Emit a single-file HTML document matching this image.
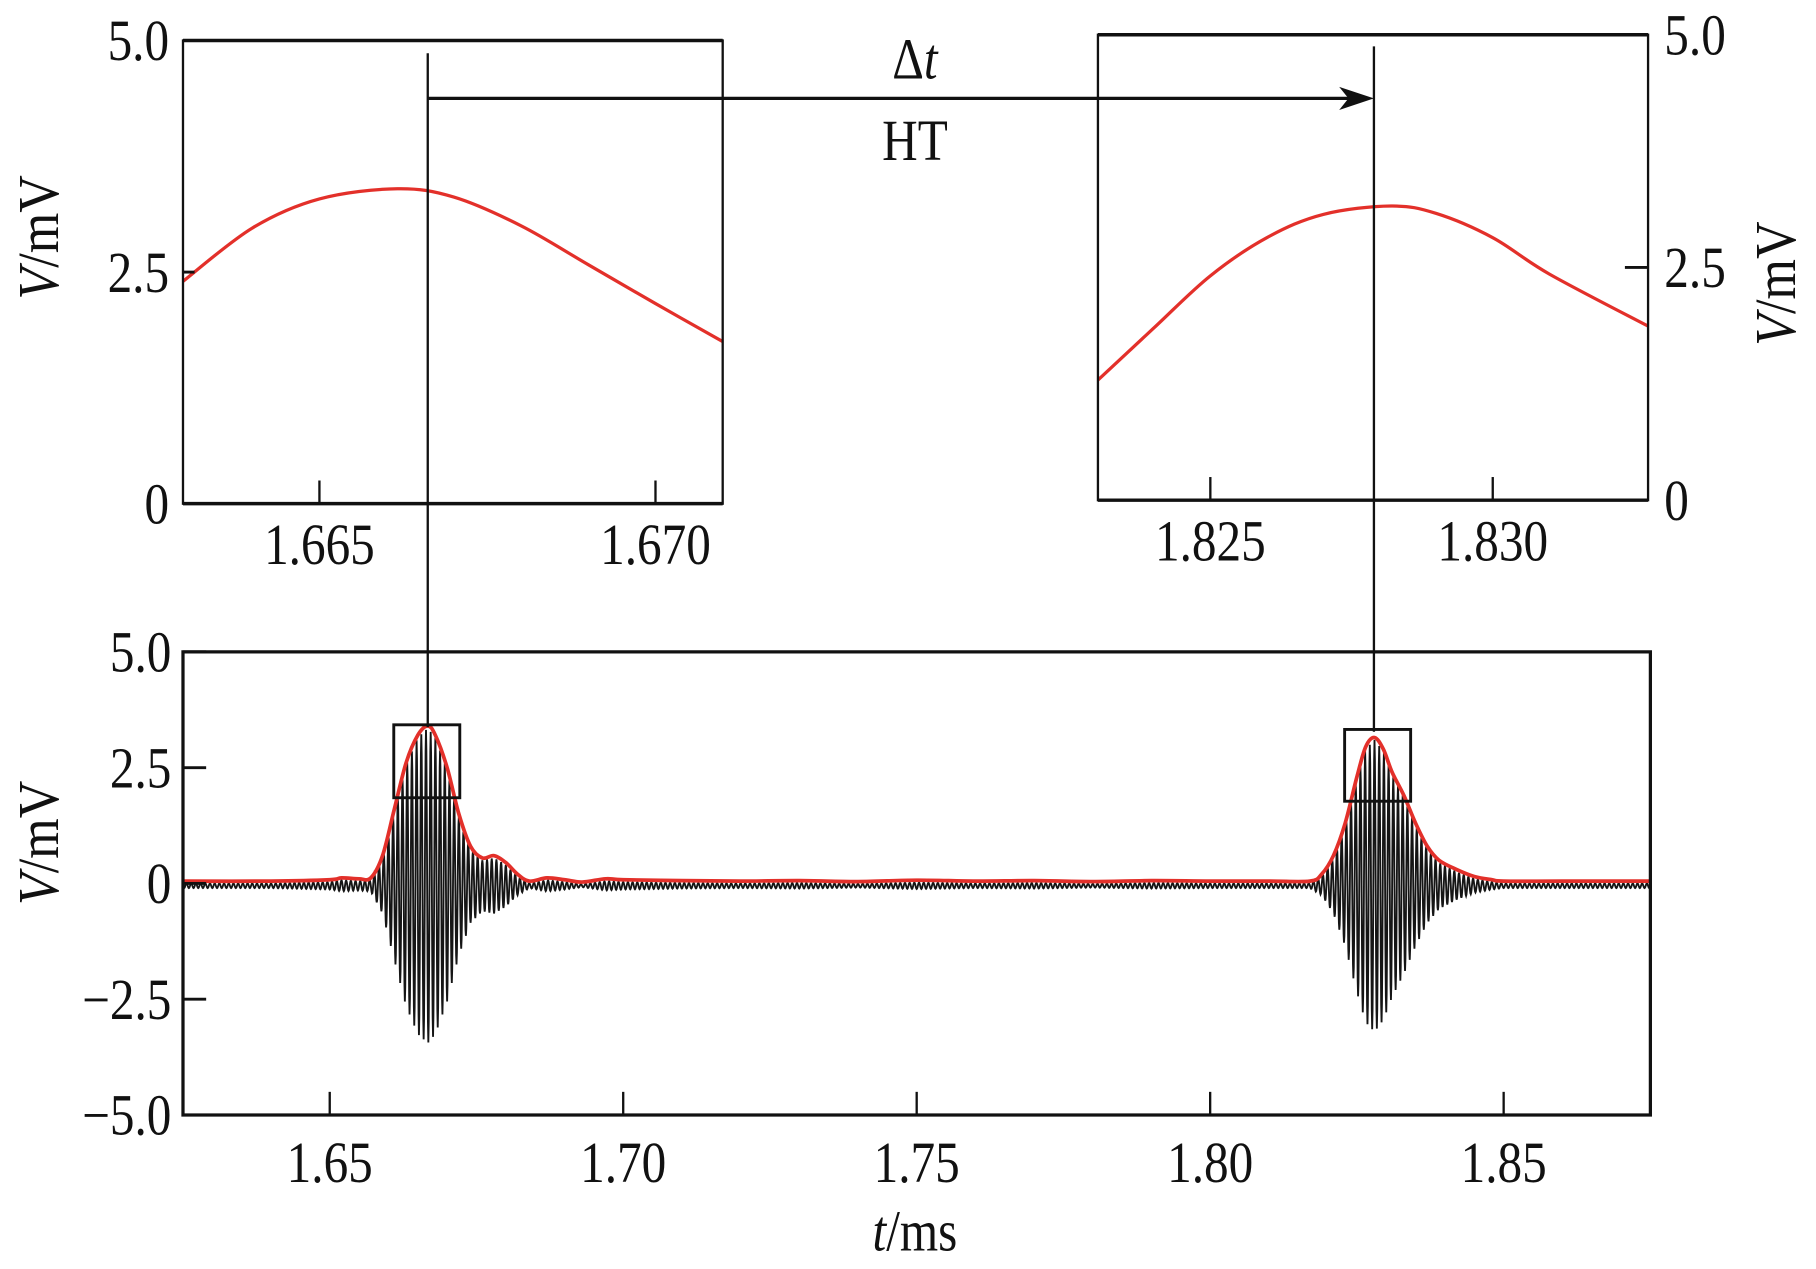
<!DOCTYPE html>
<html><head><meta charset="utf-8"><style>
html,body{margin:0;padding:0;background:#fff;}
svg{display:block;}
text{font-family:"Liberation Serif",serif;fill:#111;}
</style></head><body>
<svg id="chart" width="1816" height="1269" viewBox="0 0 1568 1096" preserveAspectRatio="none" xmlns="http://www.w3.org/2000/svg">
<g id="main"></g>
<g id="inset1"></g>
<g id="inset2"></g>
<g id="annot"></g>
</svg>
<script>
// ---- data ----
const envTimes = [1.625,1.640,1.650,1.652,1.655,1.657,1.659,1.661,1.663,1.665,1.6667,1.668,1.670,1.672,1.674,1.676,1.678,1.680,1.682,1.684,1.687,1.690,1.693,1.697,1.700,1.710,1.720,1.730,1.740,1.750,1.760,1.770,1.780,1.790,1.800,1.810,1.817,1.819,1.821,1.823,1.825,1.8265,1.828,1.8295,1.831,1.833,1.835,1.837,1.839,1.842,1.845,1.848,1.850,1.860,1.875];
const envValues = [0.05,0.05,0.08,0.12,0.10,0.12,0.6,1.6,2.6,3.2,3.4,3.2,2.5,1.5,0.8,0.55,0.6,0.45,0.2,0.05,0.12,0.08,0.03,0.1,0.08,0.06,0.05,0.06,0.04,0.07,0.05,0.06,0.04,0.06,0.05,0.05,0.05,0.2,0.6,1.3,2.3,2.95,3.15,2.9,2.4,1.9,1.3,0.8,0.5,0.3,0.15,0.08,0.05,0.05,0.05];
const carrierPeriod = 0.0008;
const inset1Times = [1.66297,1.664,1.665,1.66616,1.667,1.668,1.669,1.670,1.671];
const inset1Values = [2.4,2.975,3.29,3.4,3.31,3.0,2.58,2.16,1.75];
const inset2Times = [1.82301,1.824,1.825,1.826,1.827,1.8282,1.829,1.830,1.831,1.83275];
const inset2Values = [1.29,1.85,2.41,2.82,3.07,3.16,3.08,2.82,2.43,1.87];
const mainXTicks = [1.65,1.70,1.75,1.80,1.85];
const mainXLabels = ["1.65","1.70","1.75","1.80","1.85"];
const mainYTicks = [5,2.5,0,-2.5,-5];
const mainYLabels = ["5.0","2.5","0","\u22122.5","\u22125.0"];
const inset1XTicks = [1.665,1.670];
const inset1XLabels = ["1.665","1.670"];
const inset2XTicks = [1.825,1.830];
const inset2XLabels = ["1.825","1.830"];
const insetYTicks = [0,2.5,5];
const insetYLabels = ["0","2.5","5.0"];
const markerTimes = [1.6667,1.8279];

const NS="http://www.w3.org/2000/svg";
function mk(parent,tag,attrs,txt){const e=document.createElementNS(NS,tag);for(const k in attrs)e.setAttribute(k,attrs[k]);if(txt!==undefined)e.textContent=txt;parent.appendChild(e);return e;}
function lin(d0,d1,r0,r1){return v=>r0+(v-d0)/(d1-d0)*(r1-r0);}
function envAt(t){for(let i=1;i<envTimes.length;i++){if(t<=envTimes[i]){const f=(t-envTimes[i-1])/(envTimes[i]-envTimes[i-1]);return envValues[i-1]+f*(envValues[i]-envValues[i-1]);}}return envValues[envValues.length-1];}
function smoothPath(P){let d='M'+P[0][0]+','+P[0][1];for(let i=0;i<P.length-1;i++){const p0=P[i-1]||P[i],p1=P[i],p2=P[i+1],p3=P[i+2]||P[i+1];d+=` C${p1[0]+(p2[0]-p0[0])/6},${p1[1]+(p2[1]-p0[1])/6} ${p2[0]-(p3[0]-p1[0])/6},${p2[1]-(p3[1]-p1[1])/6} ${p2[0]},${p2[1]}`;}return d;}
const FS=50;
function txt(g,x,y,anchor,s,name){const e=mk(g,'text',{x:0,y:0,'font-size':FS,'text-anchor':anchor,transform:`translate(${x},${y}) scale(0.85,1)`},s);return e;}

// ---- main plot ----
const M=document.getElementById('main');
const mx=lin(1.625,1.875,158,1425), my=lin(-5,5,963,563);
let pts=[];
for(let t=1.625;t<=1.875;t+=carrierPeriod/12){const a=envAt(t);pts.push(mx(t).toFixed(2)+','+my(-0.05+a*Math.cos(2*Math.PI*t/carrierPeriod)).toFixed(2));}
let el=mk(M,'polyline',{points:pts.join(' '),fill:'none',stroke:'#151515','stroke-width':1.6});


el=mk(M,'path',{d:smoothPath(envTimes.map((t,i)=>[mx(t),my(envValues[i])])),fill:'none',stroke:'#e3302a','stroke-width':3.2,'stroke-linejoin':'round'});


el=mk(M,'rect',{x:158,y:563,width:1267,height:400,fill:'none',stroke:'#111','stroke-width':2.8});


mainXTicks.forEach((v,i)=>{
  mk(M,'line',{x1:mx(v),x2:mx(v),y1:963,y2:943,stroke:'#111','stroke-width':2});
  txt(M,mx(v),1021,'middle',mainXLabels[i],'x-tick-label');
});
mainYTicks.forEach((v,i)=>{
  mk(M,'line',{x1:158,x2:178,y1:my(v),y2:my(v),stroke:'#111','stroke-width':2.5});
  txt(M,148,my(v)+17,'end',mainYLabels[i],'y-tick-label');
});
[[340,626,57,63],[1161,630,57,62]].forEach(b=>{
  el=mk(M,'rect',{x:b[0],y:b[1],width:b[2],height:b[3],fill:'none',stroke:'#111','stroke-width':2.5});
  
  
});
el=txt(M,790,1080,'middle','','x-axis-title');
el.innerHTML='<tspan font-style="italic">t</tspan>/ms';
el=mk(M,'text',{x:0,y:0,'font-size':FS,'text-anchor':'middle',transform:'translate(50,728) rotate(-90) scale(0.9,1)'});


el.innerHTML='<tspan font-style="italic">V</tspan>/mV';

// ---- insets ----
function inset(g,x0,x1,y0,y1,t0,t1,times,vals,ticks,labels,right){
  const ix=lin(t0,t1,x0,x1), iy=lin(0,5,y1,y0);
  let e=mk(g,'path',{d:smoothPath(times.map((t,i)=>[ix(t),iy(vals[i])])),fill:'none',stroke:'#e3302a','stroke-width':2.8});
  
  
  mk(g,'rect',{x:x0,y:y0,width:x1-x0,height:y1-y0,fill:'none',stroke:'#111','stroke-width':2});
  mk(g,'line',{x1:x0,x2:x1,y1:y0,y2:y0,stroke:'#111','stroke-width':3});
  mk(g,'line',{x1:x0,x2:x1,y1:y1,y2:y1,stroke:'#111','stroke-width':3});
  ticks.forEach((v,i)=>{
    mk(g,'line',{x1:ix(v),x2:ix(v),y1:y1,y2:y1-20,stroke:'#111','stroke-width':2});
    txt(g,ix(v),y1+52,'middle',labels[i],'inset-x-tick-label');
  });
  insetYTicks.forEach((v,i)=>{
    if(v===2.5) mk(g,'line',{x1:right?x1:x0,x2:right?x1-20:x0+10,y1:iy(v),y2:iy(v),stroke:'#111','stroke-width':2.5});
    txt(g,right?x1+14:x0-12,iy(v)+17,right?'start':'end',insetYLabels[i],'inset-y-tick-label');
  });
  e=mk(g,'text',{x:0,y:0,'font-size':FS,'text-anchor':'middle',transform:(right?'translate(1550,245) rotate(-90)':'translate(50,205) rotate(-90)')+' scale(0.9,1)'});
  
  
  e.innerHTML='<tspan font-style="italic">V</tspan>/mV';
}
inset(document.getElementById('inset1'),158,624,35,435,1.66297,1.671,inset1Times,inset1Values,inset1XTicks,inset1XLabels,false);
inset(document.getElementById('inset2'),948,1423,30,432,1.82301,1.83275,inset2Times,inset2Values,inset2XTicks,inset2XLabels,true);

// ---- annotations ----
const A=document.getElementById('annot');
markerTimes.forEach((t,i)=>{
  el=mk(A,'line',{x1:mx(t),x2:mx(t),y1:i===0?46:40,y2:i===0?628:632,stroke:'#111','stroke-width':2});
  
  
});
el=mk(A,'line',{x1:mx(markerTimes[0]),x2:mx(markerTimes[1])-6,y1:85,y2:85,stroke:'#111','stroke-width':2.8});


mk(A,'path',{d:`M${mx(markerTimes[1])},85 L${mx(markerTimes[1])-30},75 L${mx(markerTimes[1])-22},85 L${mx(markerTimes[1])-30},95 Z`,fill:'#111'});
el=txt(A,790,68,'middle','','delta-t-label');
el.innerHTML='Δ<tspan font-style="italic">t</tspan>';
txt(A,790,138,'middle','HT','ht-label');
</script>
</body></html>
